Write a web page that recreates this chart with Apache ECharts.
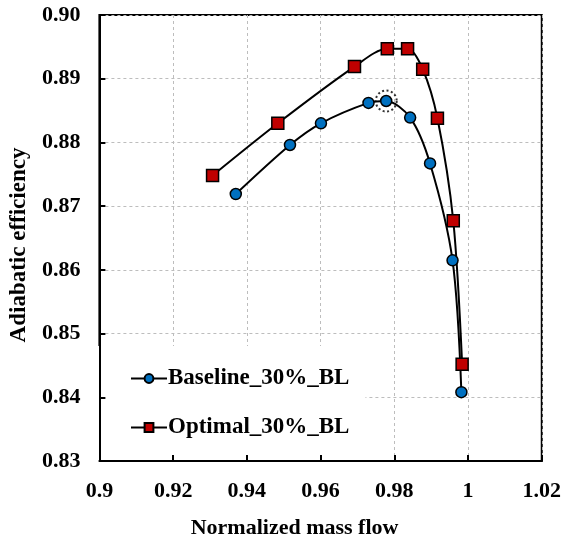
<!DOCTYPE html>
<html>
<head>
<meta charset="utf-8">
<script src="https://cdn.jsdelivr.net/npm/echarts@6/dist/echarts.min.js"></script>
<style>
  html, body { margin: 0; padding: 0; background: #fff; }
  #chart { width: 564px; height: 544px; }
</style>
</head>
<body>
<div id="chart"></div>
<script>
// Compressor performance: adiabatic efficiency versus normalized mass flow
const baselineFlow = [0.9370, 0.9517, 0.9601, 0.9730, 0.9778, 0.9843, 0.9897, 0.9958, 0.9982];
const baselineEff  = [0.8719, 0.8796, 0.8830, 0.8862, 0.8865, 0.8839, 0.8767, 0.8615, 0.8408];
const optimalFlow  = [0.9307, 0.9484, 0.9692, 0.9781, 0.9836, 0.9877, 0.9917, 0.9960, 0.9984];
const optimalEff   = [0.8748, 0.8830, 0.8919, 0.8947, 0.8947, 0.8915, 0.8838, 0.8677, 0.8452];
const xTicks = [0.9, 0.92, 0.94, 0.96, 0.98, 1, 1.02];
const yTicks = ['0.83', '0.84', '0.85', '0.86', '0.87', '0.88', '0.89', '0.90'];
const seriesNames = ['Baseline_30%_BL', 'Optimal_30%_BL'];

const FONT = '"Liberation Serif", "Times New Roman", serif';
const pair = (xs, ys) => xs.map((x, i) => [x, ys[i]]);

// peak-efficiency operating point of the baseline curve, ringed with a dotted circle
const peakIdx = baselineEff.indexOf(Math.max(...baselineEff));
const peakPoint = [baselineFlow[peakIdx], baselineEff[peakIdx]];

const chart = echarts.init(document.getElementById('chart'), null, { renderer: 'canvas' });

const gridLine = { show: true, lineStyle: { color: '#bdbdbd', type: [3, 3], width: 1 } };
const axisText = { color: '#000', fontFamily: FONT, fontWeight: 'bold', fontSize: 22 };
const frameLine = { show: true, onZero: false, lineStyle: { color: '#000', width: 2 } };
const innerTick = { show: true, inside: true, length: 6, lineStyle: { color: '#000', width: 2 } };
const xRange = { type: 'value', min: 0.9, max: 1.02, interval: 0.02 };
const yRange = { type: 'value', min: 0.83, max: 0.90, interval: 0.01 };

// Gridlines live on secondary axes at a low z so the legend box can sit over them,
// while the primary axes (frame, ticks, labels) are drawn on top of the legend.
const gridOnly = {
  axisLine: { show: false }, axisTick: { show: false }, axisLabel: { show: false },
  splitLine: gridLine, z: 0
};

chart.setOption({
  animation: false,
  backgroundColor: '#fff',
  grid: {
    left: 97, right: 19, top: 15, bottom: 76,
    show: true, borderColor: '#000', borderWidth: 2, backgroundColor: 'transparent'
  },
  xAxis: [
    Object.assign({}, xRange, {
      position: 'bottom',
      z: 5,
      name: 'Normalized mass flow',
      nameLocation: 'middle',
      nameGap: 56,
      nameTextStyle: Object.assign({}, axisText, { padding: [0, 52, 0, 0] }),
      axisLine: frameLine,
      axisTick: innerTick,
      axisLabel: Object.assign({}, axisText, {
        margin: 19,
        formatter: v => String(xTicks.find(t => Math.abs(t - v) < 1e-6) ?? v)
      }),
      splitLine: { show: false }
    }),
    Object.assign({}, xRange, gridOnly, { position: 'top' })
  ],
  yAxis: [
    Object.assign({}, yRange, {
      position: 'left',
      z: 5,
      name: 'Adiabatic efficiency',
      nameLocation: 'middle',
      nameGap: 68,
      nameRotate: 90,
      nameTextStyle: Object.assign({}, axisText, { fontSize: 23, padding: [0, 14, 0, 0] }),
      axisLine: frameLine,
      axisTick: innerTick,
      axisLabel: Object.assign({}, axisText, {
        margin: 19,
        formatter: v => yTicks[Math.round((v - 0.83) / 0.01)]
      }),
      splitLine: { show: false }
    }),
    Object.assign({}, yRange, gridOnly, { position: 'right' })
  ],
  legend: {
    data: seriesNames,
    orient: 'vertical',
    left: 97, top: 346,
    z: 4,
    backgroundColor: '#fff',
    padding: [21, 16, 30, 33],
    itemGap: 26,
    itemWidth: 36,
    itemHeight: 11,
    textStyle: Object.assign({}, axisText, { fontSize: 23, padding: [0, 0, 0, -4] })
  },
  series: [
    {
      name: seriesNames[0],
      type: 'line',
      data: pair(baselineFlow, baselineEff),
      smooth: 0.3,
      symbol: 'circle',
      symbolSize: 11,
      itemStyle: { color: '#0070C0', borderColor: '#000', borderWidth: 1.5 },
      lineStyle: { color: '#000', width: 2 },
      z: 3
    },
    {
      name: seriesNames[1],
      type: 'line',
      data: pair(optimalFlow, optimalEff),
      smooth: 0.3,
      symbol: 'rect',
      symbolSize: 12,
      itemStyle: { color: '#C00000', borderColor: '#000', borderWidth: 1.5 },
      lineStyle: { color: '#000', width: 2 },
      z: 3
    },
    {
      name: 'peak',
      type: 'scatter',
      data: [peakPoint],
      symbol: 'circle',
      symbolSize: 21,
      silent: true,
      itemStyle: { color: 'transparent', borderColor: '#000', borderWidth: 2, borderType: [2, 2.5] },
      z: 2
    }
  ]
});
</script>
</body>
</html>
